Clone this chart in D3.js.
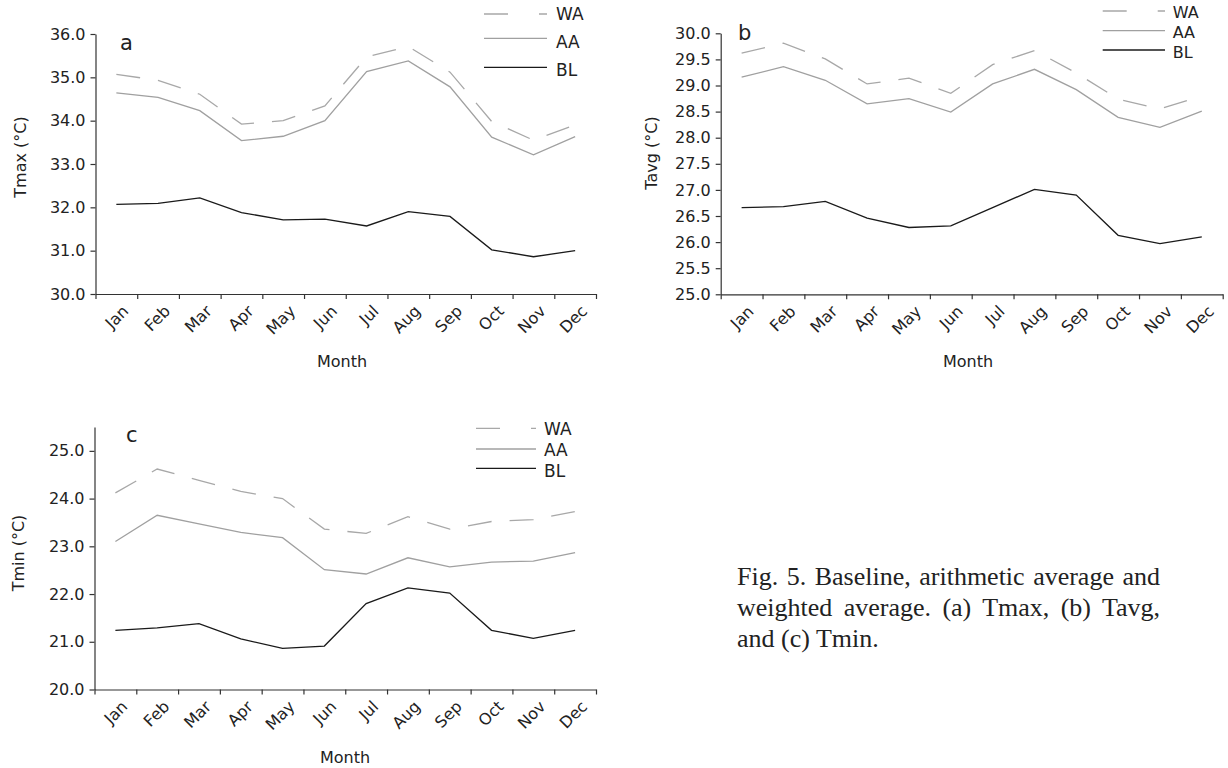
<!DOCTYPE html>
<html>
<head>
<meta charset="utf-8">
<script src="https://cdn.jsdelivr.net/npm/d3@7"></script>
<style>
  body { margin: 0; background: #fff; }
  svg { display: block; font-family: "DejaVu Sans", Arial, sans-serif; }
  .caption { position: absolute; left: 737px; top: 561px; width: 423px;
    font: 26px/31px "Liberation Serif", "Times New Roman", serif; color: #222; }
  .caption .j { text-align: justify; text-align-last: justify; }
</style>
</head>
<body>
<svg id="chart" width="1228" height="768"></svg>
<div class="caption" id="caption"></div>
<script>
const months = ["Jan", "Feb", "Mar", "Apr", "May", "Jun", "Jul", "Aug", "Sep", "Oct", "Nov", "Dec"];
const seriesNames = ["WA", "AA", "BL"];

// (a) Tmax
const tmaxWA = [35.07, 34.93, 34.61, 33.92, 34.00, 34.34, 35.47, 35.71, 35.12, 33.98, 33.55, 33.90];
const tmaxAA = [34.64, 34.54, 34.23, 33.54, 33.64, 34.00, 35.13, 35.38, 34.78, 33.62, 33.21, 33.63];
const tmaxBL = [32.07, 32.09, 32.22, 31.88, 31.71, 31.73, 31.57, 31.90, 31.79, 31.02, 30.86, 31.00];
// (b) Tavg
const tavgWA = [29.62, 29.81, 29.51, 29.03, 29.14, 28.85, 29.40, 29.67, 29.24, 28.74, 28.55, 28.80];
const tavgAA = [29.16, 29.36, 29.10, 28.65, 28.75, 28.49, 29.03, 29.31, 28.92, 28.39, 28.20, 28.51];
const tavgBL = [26.66, 26.68, 26.78, 26.46, 26.28, 26.31, 26.66, 27.01, 26.90, 26.13, 25.97, 26.10];
// (c) Tmin
const tminWA = [24.12, 24.62, 24.38, 24.15, 24.00, 23.36, 23.27, 23.62, 23.36, 23.52, 23.56, 23.73];
const tminAA = [23.10, 23.65, 23.47, 23.29, 23.18, 22.51, 22.42, 22.76, 22.57, 22.67, 22.69, 22.87];
const tminBL = [21.24, 21.29, 21.38, 21.06, 20.86, 20.91, 21.80, 22.13, 22.02, 21.24, 21.07, 21.24];

const tmaxTicks = [30, 31, 32, 33, 34, 35, 36];
const tavgTicks = [25, 25.5, 26, 26.5, 27, 27.5, 28, 28.5, 29, 29.5, 30];
const tminTicks = [20, 21, 22, 23, 24, 25];

const captionLines = [
  "Fig. 5. Baseline, arithmetic average and",
  "weighted average. (a) Tmax, (b) Tavg,",
  "and (c) Tmin."
];

const styles = {
  WA: { stroke: "#a8a8a8", dash: "24,18", legendDash: "24,31" },
  AA: { stroke: "#a0a0a0", dash: null, legendDash: null },
  BL: { stroke: "#1a1a1a", dash: null, legendDash: null }
};

const svg = d3.select("#chart");
const fmt = d3.format(".1f");

function drawPanel(p) {
  const g = svg.append("g");
  const y = d3.scaleLinear().domain(p.yDomain).range([p.yBottom, p.yTop]);
  const x = d3.scaleBand().domain(months).range([p.x0, p.x1]);
  // tick marks sit between the months
  const edge = d3.scaleLinear().domain([0, months.length]).range([p.x0, p.x1]);
  const cx = (m) => x(m) + x.bandwidth() / 2;

  const ya = g.append("g")
    .attr("transform", `translate(${p.x0},0)`)
    .call(d3.axisLeft(y).tickValues(p.yTicks).tickFormat(fmt)
      .tickSize(5).tickPadding(5).tickSizeOuter(0));

  const xa = g.append("g")
    .attr("transform", `translate(0,${p.yBottom})`)
    .call(d3.axisBottom(edge).tickValues(d3.range(0, months.length + 1))
      .tickFormat("").tickSize(5).tickSizeOuter(0));

  [ya, xa].forEach((a) => {
    a.selectAll("path, line").attr("stroke", "#333").attr("stroke-width", 1.2);
    a.selectAll("text").attr("fill", "#222").attr("font-size", 16)
      .attr("font-family", "DejaVu Sans, Arial, sans-serif");
  });

  // rotated month labels
  g.selectAll("text.month")
    .data(months)
    .join("text")
    .attr("class", "month")
    .attr("transform", (m) => `translate(${cx(m) + 5},${p.yBottom + 10}) rotate(-45)`)
    .attr("text-anchor", "end")
    .attr("dy", "0.72em")
    .attr("font-size", 16)
    .attr("fill", "#222")
    .text((m) => m);

  g.append("text")
    .attr("x", p.monthX).attr("y", p.monthY)
    .attr("text-anchor", "middle").attr("dominant-baseline", "central")
    .attr("font-size", 16).attr("fill", "#222")
    .text("Month");

  g.append("text")
    .attr("transform", `translate(${p.titleX},${p.titleY}) rotate(-90)`)
    .attr("text-anchor", "middle").attr("dominant-baseline", "central")
    .attr("font-size", 16).attr("fill", "#222")
    .text(p.title);

  g.append("text")
    .attr("x", p.letterX).attr("y", p.letterY)
    .attr("font-size", 21).attr("fill", "#222")
    .text(p.letter);

  const line = d3.line()
    .x((d, i) => cx(months[i]))
    .y((d) => y(d));

  p.series.forEach((s, i) => {
    const st = styles[seriesNames[i]];
    g.append("path")
      .datum(s)
      .attr("d", line)
      .attr("fill", "none")
      .attr("stroke", st.stroke)
      .attr("stroke-width", 1.3)
      .attr("stroke-dasharray", st.dash);
  });

  // legend
  seriesNames.forEach((name, i) => {
    const st = styles[name];
    g.append("line")
      .attr("x1", p.leg.x0).attr("x2", p.leg.x1)
      .attr("y1", p.leg.lineY[i]).attr("y2", p.leg.lineY[i])
      .attr("stroke", st.stroke).attr("stroke-width", 1.3)
      .attr("stroke-dasharray", st.legendDash);
    g.append("text")
      .attr("x", p.leg.textX).attr("y", p.leg.textY[i])
      .attr("dominant-baseline", "central")
      .attr("font-size", p.leg.size).attr("fill", "#222")
      .text(name);
  });
}

drawPanel({
  series: [tmaxWA, tmaxAA, tmaxBL],
  yDomain: [30, 36], yTicks: tmaxTicks,
  x0: 95.5, x1: 596, yTop: 34, yBottom: 294,
  title: "Tmax (°C)", titleX: 20, titleY: 157,
  letter: "a", letterX: 120, letterY: 50,
  monthX: 342, monthY: 361,
  leg: { x0: 484, x1: 547, lineY: [14, 38.3, 67.3], textX: 556, textY: [14, 41.7, 70], size: 17 }
});

drawPanel({
  series: [tavgWA, tavgAA, tavgBL],
  yDomain: [25, 30], yTicks: tavgTicks,
  x0: 720.7, x1: 1222.7, yTop: 33.3, yBottom: 294.3,
  title: "Tavg (°C)", titleX: 651, titleY: 153,
  letter: "b", letterX: 738, letterY: 40,
  monthX: 968, monthY: 361,
  leg: { x0: 1102.7, x1: 1165, lineY: [11, 30.7, 50], textX: 1172.7, textY: [12, 32.3, 52.3], size: 16 }
});

drawPanel({
  series: [tminWA, tminAA, tminBL],
  yDomain: [20, 25.5], yTicks: tminTicks,
  x0: 94.5, x1: 596, yTop: 427, yBottom: 689.5,
  title: "Tmin (°C)", titleX: 18, titleY: 553,
  letter: "c", letterX: 126, letterY: 442,
  monthX: 345, monthY: 757,
  leg: { x0: 476, x1: 536, lineY: [428.3, 449, 468.3], textX: 544, textY: [428.5, 449.5, 470.5], size: 17 }
});

d3.select("#caption")
  .selectAll("div")
  .data(captionLines)
  .join("div")
  .attr("class", (d, i) => (i < captionLines.length - 1 ? "j" : null))
  .text((d) => d);
</script>
</body>
</html>
